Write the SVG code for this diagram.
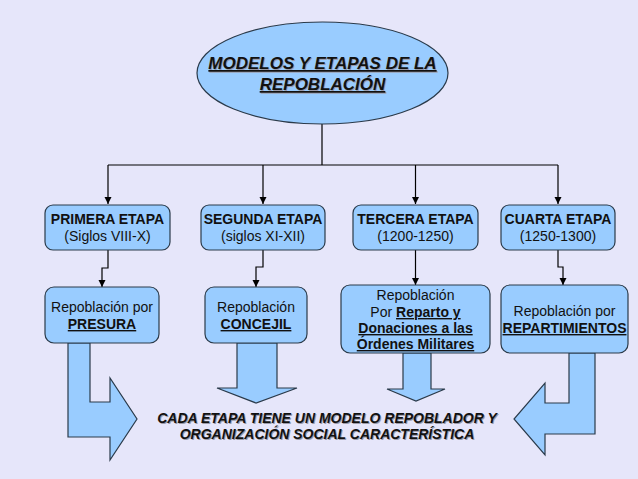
<svg xmlns="http://www.w3.org/2000/svg" width="638" height="479" viewBox="0 0 638 479">
<style>
.bg{fill:#e6e6fa}
.box{fill:#99ccff;stroke:#2a3a4a;stroke-width:1.2}
.conn{fill:none;stroke:#000;stroke-width:1.2}
.t{font-family:"Liberation Sans",Arial,sans-serif;font-size:14px;fill:#111;text-anchor:middle}
.b{font-weight:bold}
.u{text-decoration:underline}
.title{font-family:"Liberation Sans",Arial,sans-serif;font-size:17px;font-weight:bold;font-style:italic;text-anchor:middle;text-decoration:underline}
.foot{font-family:"Liberation Sans",Arial,sans-serif;font-size:14px;font-weight:bold;font-style:italic;text-anchor:middle}
.sh{fill:#9a9aa8}
.fg{fill:#111}
</style>
<defs>
<marker id="ah" viewBox="0 0 10 10" refX="10" refY="5" markerWidth="7" markerHeight="8" markerUnits="userSpaceOnUse" orient="auto">
<path d="M0,0 L10,5 L0,10 Z" fill="#000"/>
</marker>
</defs>
<rect class="bg" x="0" y="0" width="638" height="479"/>

<g id="connectors">
<path class="conn" d="M322,124 V165 M108,165 H558"/>
<path class="conn" d="M108,165 V204" marker-end="url(#ah)"/>
<path class="conn" d="M263,165 V204" marker-end="url(#ah)"/>
<path class="conn" d="M415.5,165 V204" marker-end="url(#ah)"/>
<path class="conn" d="M558,165 V204" marker-end="url(#ah)"/>
<path class="conn" d="M108,250 V268 H102 V287" marker-end="url(#ah)"/>
<path class="conn" d="M263,250 V267 H256 V287" marker-end="url(#ah)"/>
<path class="conn" d="M415.5,250 V285" marker-end="url(#ah)"/>
<path class="conn" d="M558,250 V267 H563 V285" marker-end="url(#ah)"/>
</g>

<g id="arrows">
<path class="box" d="M68,343 L90,343 L90,402 L110,402 L110,378 L137,419 L110,460 L110,437 L68,437 Z"/>
<path class="box" d="M237,343 L277,343 L277,388 L297,388 L256,403 L217,388 L237,388 Z"/>
<path class="box" d="M403,353 L431,353 L431,389 L445,389 L416,401 L387,389 L403,389 Z"/>
<path class="box" d="M569,353 L595,353 L595,434 L545,434 L545,455 L514,419 L545,383 L545,403 L569,403 Z"/>
</g>

<g id="title">
<ellipse class="box" cx="322.5" cy="73" rx="125.5" ry="51"/>
<text class="title sh" x="323.5" y="70">MODELOS Y ETAPAS DE LA</text>
<text class="title sh" x="323.5" y="91">REPOBLACIÓN</text>
<text class="title fg" x="322.5" y="69">MODELOS Y ETAPAS DE LA</text>
<text class="title fg" x="322.5" y="90">REPOBLACIÓN</text>
</g>

<g id="etapa1">
<rect class="box" x="45" y="205" width="125" height="45" rx="8"/>
<text class="t b" x="107.5" y="224">PRIMERA ETAPA</text>
<text class="t" x="107.5" y="241">(Siglos VIII-X)</text>
</g>
<g id="etapa2">
<rect class="box" x="201" y="205" width="124" height="45" rx="8"/>
<text class="t b" x="263" y="224">SEGUNDA ETAPA</text>
<text class="t" x="263" y="241">(siglos XI-XII)</text>
</g>
<g id="etapa3">
<rect class="box" x="353" y="205" width="125" height="45" rx="8"/>
<text class="t b" x="415.5" y="224">TERCERA ETAPA</text>
<text class="t" x="415.5" y="241">(1200-1250)</text>
</g>
<g id="etapa4">
<rect class="box" x="501" y="205" width="114" height="45" rx="8"/>
<text class="t b" x="558" y="224">CUARTA ETAPA</text>
<text class="t" x="558" y="241">(1250-1300)</text>
</g>

<g id="modelo1">
<rect class="box" x="45" y="287" width="114" height="56" rx="9"/>
<text class="t" x="102" y="312">Repoblación por</text>
<text class="t b u" x="102" y="329">PRESURA</text>
</g>
<g id="modelo2">
<rect class="box" x="205" y="287" width="102" height="56" rx="9"/>
<text class="t" x="256" y="312">Repoblación</text>
<text class="t b u" x="256" y="329">CONCEJIL</text>
</g>
<g id="modelo3">
<rect class="box" x="341" y="285" width="149" height="68" rx="9"/>
<text class="t" x="415.5" y="300">Repoblación</text>
<text class="t" x="415.5" y="317">Por <tspan class="b u">Reparto y </tspan></text>
<text class="t b u" x="415.5" y="333">Donaciones a las</text>
<text class="t b u" x="415.5" y="349">Órdenes Militares</text>
</g>
<g id="modelo4">
<rect class="box" x="501" y="285" width="127" height="68" rx="9"/>
<text class="t" x="564.5" y="316">Repoblación por</text>
<text class="t b u" x="564.5" y="333">REPARTIMIENTOS</text>
</g>

<g id="conclusion">
<text class="foot sh" x="328" y="424">CADA ETAPA TIENE UN MODELO REPOBLADOR Y</text>
<text class="foot sh" x="328" y="440">ORGANIZACIÓN SOCIAL CARACTERÍSTICA</text>
<text class="foot fg" x="327" y="423">CADA ETAPA TIENE UN MODELO REPOBLADOR Y</text>
<text class="foot fg" x="327" y="439">ORGANIZACIÓN SOCIAL CARACTERÍSTICA</text>
</g>
</svg>
